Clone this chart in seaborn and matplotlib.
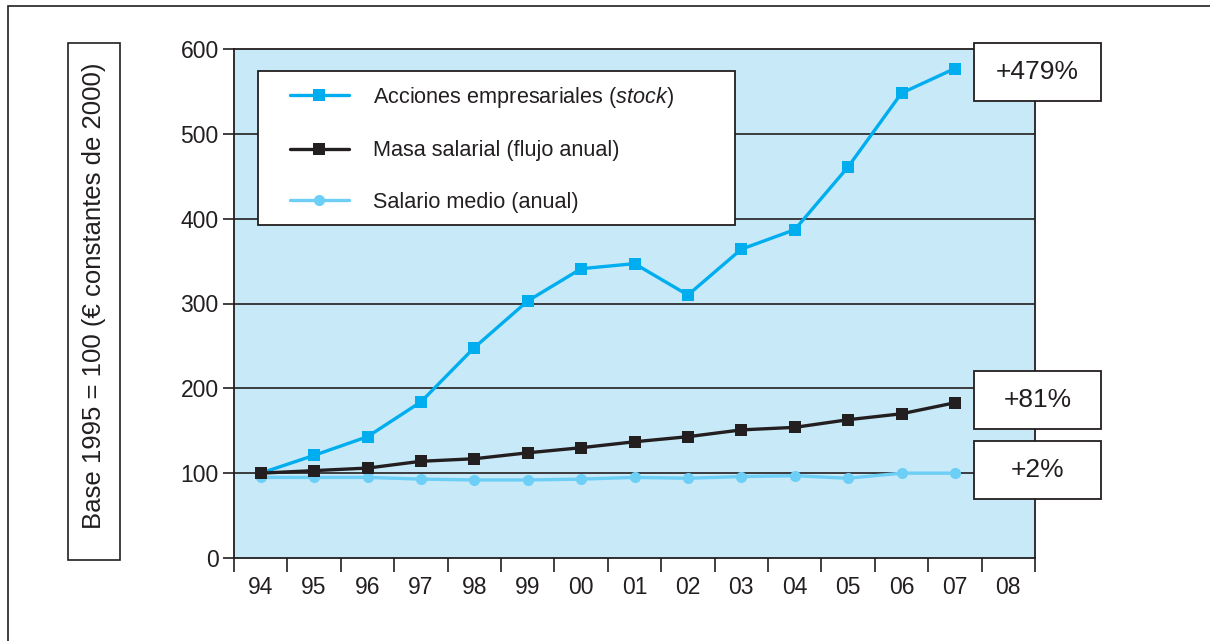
import numpy as np
import pandas as pd
import matplotlib
matplotlib.use("Agg")
import matplotlib.pyplot as plt
import matplotlib.patches as mpatches
import matplotlib.transforms as mtransforms
import seaborn as sns

# data (base 1995 = 100)
years = ["94", "95", "96", "97", "98", "99", "00", "01", "02", "03", "04", "05", "06", "07", "08"]
acciones = [100, 121, 143, 184, 248, 303, 341, 347, 310, 364, 387, 461, 548, 577]
masa = [100, 103, 106, 114, 117, 124, 130, 137, 143, 151, 154, 163, 170, 183]
salario = [95, 95, 95, 93, 92, 92, 93, 95, 94, 96, 97, 94, 100, 100]
etiquetas = ["+479%", "+81%", "+2%"]
series_names = ["Acciones empresariales $\\mathit{(stock)}$",
                "Masa salarial (flujo anual)",
                "Salario medio (anual)"]

C_ACC = "#00AEEF"
C_MASA = "#231F20"
C_SAL = "#6DCFF6"
DARK = "#231F20"

sns.set_theme(style="white")
plt.rcParams["font.family"] = ["Liberation Sans", "DejaVu Sans"]
plt.rcParams["mathtext.fontset"] = "custom"
plt.rcParams["mathtext.rm"] = "Liberation Sans"
plt.rcParams["mathtext.it"] = "Liberation Sans:italic"

fig = plt.figure(figsize=(12.1, 6.41), dpi=100)
ax = fig.add_axes([234 / 1210, 1 - 558 / 641, (1035 - 234) / 1210, (558 - 49) / 641])
ax.set_facecolor("#C7E9F8")

# category centres (data stops at 07)
xpos = np.arange(len(acciones)) + 0.5
df = pd.DataFrame({"x": xpos, "acc": acciones, "masa": masa, "sal": salario})

sns.lineplot(data=df, x="x", y="acc", ax=ax, color=C_ACC, lw=2.4, marker="s",
             markersize=8, markeredgewidth=0, label=series_names[0], zorder=4)
sns.lineplot(data=df, x="x", y="masa", ax=ax, color=C_MASA, lw=2.4, marker="s",
             markersize=8, markeredgewidth=0, label=series_names[1], zorder=4)
sns.lineplot(data=df, x="x", y="sal", ax=ax, color=C_SAL, lw=2.4, marker="o",
             markersize=8, markeredgewidth=0, label=series_names[2], zorder=3)

ax.set_xlim(0, len(years))
ax.set_ylim(0, 600)
ax.set_xlabel("")
ax.set_ylabel("")

# gridlines
ax.set_yticks(np.arange(0, 601, 100))
for yv in range(100, 600, 100):
    ax.axhline(yv, color=DARK, lw=1.2, zorder=1)

# x: ticks on boundaries, labels on centres
ax.set_xticks(np.arange(0, len(years) + 1))
ax.set_xticklabels([])
ax.set_xticks(np.arange(len(years)) + 0.5, minor=True)
ax.set_xticklabels(years, minor=True)
ax.tick_params(axis="x", which="major", direction="out", length=10, width=1.2,
               color=DARK, bottom=True)
ax.tick_params(axis="x", which="minor", length=0, pad=13, labelsize=16.5, labelcolor=DARK)
ax.tick_params(axis="y", direction="out", length=8, width=1.2, color=DARK,
               left=True, labelsize=16.5, labelcolor=DARK, pad=3)

for s in ax.spines.values():
    s.set_visible(True)
    s.set_color(DARK)
    s.set_linewidth(1.3)

# legend: white box drawn separately, frameless legend placed inside it
ax.add_patch(mpatches.Rectangle((24 / 801, (558 - 225) / 509), (735 - 258) / 801,
                                (225 - 71) / 509, transform=ax.transAxes,
                                facecolor="white", edgecolor=DARK, lw=1.3, zorder=5))
leg = ax.legend(loc="upper left", bbox_to_anchor=((290 - 234) / 801, (558 - 85) / 509),
                borderaxespad=0, borderpad=0, frameon=False,
                fontsize=15.6, handlelength=2.7, handletextpad=1.15,
                labelspacing=1.4)
leg.set_zorder(6)
for t in leg.get_texts():
    t.set_color(DARK)

# end-value boxes
blend = mtransforms.blended_transform_factory(ax.transAxes, ax.transData)
box_w = 127 / 801
box_h = 58 / 509 * 600
centres = [573, 186, 104]
for lab, yc in zip(etiquetas, centres):
    r = mpatches.Rectangle((0.924, yc - box_h / 2), box_w, box_h, transform=blend,
                           facecolor="white", edgecolor=DARK, lw=1.3,
                           clip_on=False, zorder=6)
    ax.add_patch(r)
    ax.text(0.924 + box_w / 2, yc, lab, transform=blend, ha="center", va="center",
            fontsize=19, color=DARK, zorder=7, clip_on=False)

# y label in its own box
fig.patches.append(mpatches.Rectangle((68 / 1210, 1 - 560 / 641), 52 / 1210, 517 / 641,
                                      transform=fig.transFigure, facecolor="white",
                                      edgecolor=DARK, lw=1.2))
fig.text(94 / 1210, 1 - 296 / 641, "Base 1995 = 100 (€ constantes de 2000)",
         rotation=90, ha="center", va="center", fontsize=18.5, color=DARK)

# outer frame (right and bottom edges fall outside the picture)
fig.patches.append(mpatches.Rectangle((8 / 1210, -0.01), 1.02, 1.01 - 6 / 641,
                                      transform=fig.transFigure, facecolor="none",
                                      edgecolor=DARK, lw=1.2))

fig.savefig("out.png", dpi=100)
